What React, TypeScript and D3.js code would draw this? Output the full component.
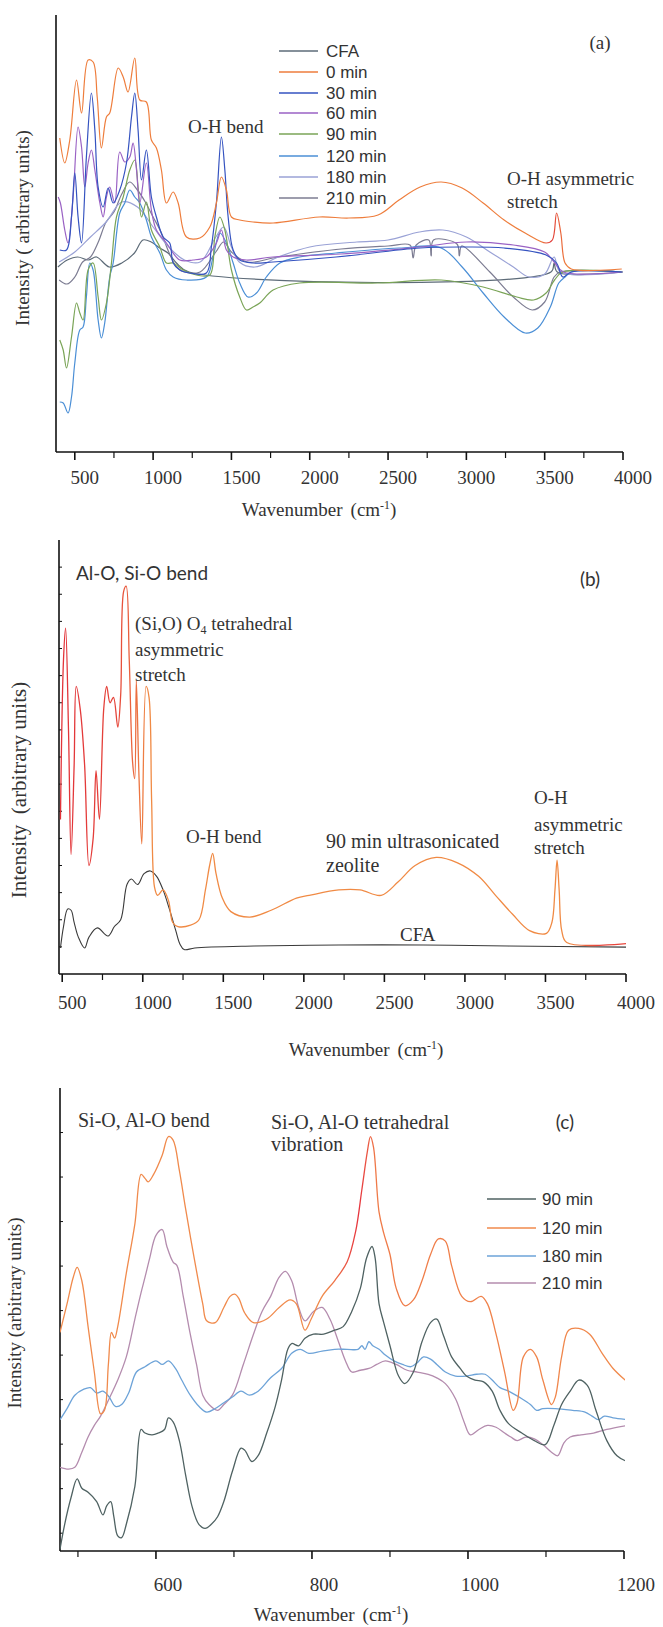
import React from "react";
import * as d3 from "d3";

type P = [number, number];

const SERIF = '"Liberation Serif", "Times New Roman", serif';
const SANS = '"Liberation Sans", Arial, sans-serif';
const CAL = 'Lato, "Open Sans", sans-serif';
const TXT = "#333333";

// ---------- Panel (a) ----------
const aLegend = ["CFA", "0 min", "30 min", "60 min", "90 min", "120 min", "180 min", "210 min"];
const aColors = ["#5d6b78", "#ee7d3c", "#3553c0", "#9a62c4", "#7aa457", "#4b8fd6", "#9aa2d6", "#7c7c92"];

const aCFA: P[] = [[392,185],[452,192],[519,195],[586,192],[639,195],[720,185],[800,189],[881,199],[935,212],[988,210],[1042,204],[1095,199],[1149,189],[1229,180],[3540,180],[3560,189],[3580,180],[4000,180]];
const a0: P[] = [[404,314],[436,289],[468,312],[511,372],[543,339],[585,392],[617,390],[643,355],[670,304],[702,335],[723,339],[777,384],[809,375],[840,360],[883,394],[915,352],[957,350],[989,312],[1021,304],[1053,282],[1085,249],[1128,260],[1160,249],[1213,215],[1298,214],[1362,225],[1404,249],[1436,275],[1468,262],[1500,235],[1553,232],[1638,230],[1766,229],[2061,235],[2249,234],[2436,237],[2570,252],[2705,265],[2839,270],[2973,264],[3107,249],[3241,232],[3375,219],[3509,209],[3549,212],[3576,239],[3603,219],[3630,189],[3670,183],[3992,183]];
const a30: P[] = [[404,202],[447,202],[479,235],[500,279],[521,235],[543,209],[574,295],[606,359],[628,322],[649,265],[681,245],[713,264],[745,249],[787,262],[830,289],[862,335],[883,359],[904,322],[926,272],[957,302],[989,255],[1021,235],[1064,215],[1106,209],[1128,189],[1170,182],[1234,179],[1340,179],[1372,205],[1404,249],[1436,315],[1458,282],[1479,235],[1511,202],[1553,192],[1638,189],[1766,190],[2168,195],[2705,204],[2973,205],[3241,204],[3509,197],[3576,189],[3616,175],[3670,180],[3992,180]];
const a60: P[] = [[394,255],[408,249],[436,222],[457,209],[489,255],[521,325],[543,305],[564,265],[585,289],[606,302],[628,282],[660,249],[681,235],[702,255],[723,265],[755,249],[787,300],[819,290],[851,295],[872,309],[894,282],[915,249],[957,289],[989,242],[1021,222],[1085,209],[1170,192],[1255,192],[1340,195],[1404,209],[1436,222],[1468,202],[1511,195],[1596,192],[1766,195],[2200,198],[2700,205],[3000,210],[3300,207],[3500,200],[3560,190],[3620,180],[3992,180]];
const a90: P[] = [[404,112],[426,102],[447,84],[479,115],[511,149],[532,139],[553,132],[585,182],[617,189],[649,155],[670,132],[702,149],[734,189],[766,235],[809,255],[851,282],[883,292],[904,265],[926,235],[957,250],[989,222],[1043,205],[1085,189],[1128,189],[1192,182],[1277,177],[1362,177],[1394,215],[1426,235],[1458,222],[1500,182],[1553,155],[1596,142],[1638,145],[1681,149],[1766,162],[1936,169],[2436,169],[2839,172],[3107,165],[3322,155],[3429,152],[3509,159],[3563,172],[3616,180],[3992,180]];
const a120: P[] = [[404,50],[426,49],[457,39],[479,55],[500,89],[532,122],[553,125],[574,155],[596,189],[617,182],[649,132],[670,114],[691,129],[723,175],[745,189],[787,239],[819,249],[851,262],[883,255],[915,249],[957,232],[989,215],[1043,199],[1085,182],[1128,175],[1213,172],[1340,175],[1383,195],[1426,219],[1468,209],[1511,189],[1553,169],[1606,155],[1660,159],[1723,175],[1809,189],[1936,195],[2168,199],[2570,204],[2839,204],[2973,185],[3107,159],[3241,135],[3375,119],[3456,124],[3536,145],[3590,169],[3630,175],[3670,180],[3992,180]];
const a180: P[] = [[400,190],[500,200],[600,215],[700,230],[800,250],[900,245],[1000,225],[1100,205],[1200,192],[1300,190],[1400,215],[1450,225],[1500,205],[1550,190],[1650,185],[1800,195],[2000,205],[2300,210],[2500,212],[2700,220],[2850,222],[3000,215],[3150,200],[3300,185],[3400,175],[3500,178],[3560,195],[3600,180],[4000,180]];
const a210: P[] = [[400,172],[450,168],[500,175],[550,190],[600,195],[650,210],[700,230],[750,240],[800,258],[850,270],[900,262],[950,250],[1000,235],[1050,220],[1100,200],[1150,185],[1200,180],[1300,180],[1400,200],[1450,210],[1500,200],[1600,190],[1800,195],[2200,203],[2500,206],[2640,207],[2660,194],[2680,207],[2760,212],[2775,196],[2790,212],[2940,208],[2955,196],[2970,206],[3150,180],[3300,155],[3420,142],[3500,150],[3560,175],[3600,180],[4000,180]];

// ---------- Panel (b) ----------
const b90: P[] = [[489,5.7],[508,11.6],[521,12.75],[539,9.0],[555,4.4],[574,7.7],[587,10.6],[613,9.7],[639,7.7],[666,4.0],[692,5.0],[710,7.5],[731,5.7],[758,9.8],[776,10.6],[797,10.0],[818,10.2],[845,9.1],[863,10.3],[881,14.1],[897,14.3],[916,11.6],[937,7.8],[950,7.2],[960,10.8],[976,7.4],[994,4.8],[1021,10.6],[1039,10.2],[1055,6.4],[1073,3.2],[1092,2.9],[1126,3.1],[1160,2.7],[1186,1.9],[1218,1.75],[1297,1.8],[1349,2.0],[1389,3.1],[1415,4.0],[1434,4.45],[1455,3.7],[1494,2.8],[1547,2.3],[1665,2.1],[1797,2.35],[1954,2.8],[2033,2.9],[2217,3.1],[2349,3.1],[2480,2.9],[2586,3.4],[2691,4.0],[2822,4.3],[2954,4.1],[3085,3.6],[3190,2.9],[3296,2.2],[3401,1.6],[3506,1.5],[3540,1.9],[3559,3.1],[3572,4.2],[3585,3.1],[3601,1.6],[3632,1.16],[4000,1.12]];
const bCFA: P[] = [[489,0.96],[508,1.75],[534,2.4],[555,2.35],[574,1.9],[600,1.36],[639,0.96],[666,1.36],[718,1.7],[784,1.4],[824,1.75],[863,2.0],[902,3.3],[929,3.5],[968,3.3],[1008,3.7],[1047,3.8],[1086,3.6],[1126,3.1],[1165,2.4],[1205,1.6],[1231,1.1],[1257,0.9],[1323,0.96],[1691,1.03],[2217,1.07],[2743,1.07],[3269,1.03],[4000,0.99]];
const bYTicks = [1,2,3,4,5,6,7,8,9,10,11,12,13,14,15];

// ---------- Panel (c) ----------
const cLegend = ["90 min", "120 min", "180 min", "210 min"];
const cColors = ["#4f6262", "#f08a4c", "#6da3d8", "#b48cae"];
const c90: P[] = [[477,-0.36],[483,0.2],[491,0.79],[499,1.22],[505,1.01],[513,0.92],[524,0.71],[532,0.41],[537,0.62],[542,0.71],[546,0.37],[551,-0.06],[556,-0.1],[562,0.2],[573,1.05],[581,2.33],[586,2.25],[595,2.21],[603,2.25],[611,2.33],[616,2.59],[622,2.5],[630,2.08],[638,1.31],[646,0.62],[655,0.2],[663,0.11],[671,0.2],[679,0.37],[687,0.71],[698,1.39],[709,1.91],[714,1.86],[723,1.61],[731,1.74],[742,2.25],[753,2.85],[761,3.44],[769,4.13],[774,4.26],[783,4.21],[791,4.38],[802,4.47],[815,4.47],[829,4.56],[840,4.64],[851,4.98],[862,5.5],[870,6.18],[877,6.44],[881,6.18],[886,5.15],[892,4.73],[900,4.21],[911,3.53],[919,3.36],[930,3.62],[941,4.3],[952,4.73],[960,4.81],[968,4.47],[979,3.96],[990,3.7],[998,3.53],[1009,3.44],[1020,3.4],[1031,3.19],[1041,2.76],[1052,2.46],[1069,2.25],[1085,2.08],[1099,1.99],[1110,2.42],[1120,2.89],[1131,3.19],[1142,3.44],[1153,3.32],[1164,2.76],[1178,2.08],[1191,1.74],[1204,1.61]];
const c120: P[] = [[477,4.51],[486,5.15],[494,5.75],[499,5.97],[505,5.67],[513,4.64],[521,3.62],[529,2.68],[534,2.76],[539,3.79],[543,4.51],[547,4.38],[551,4.64],[562,5.84],[573,6.95],[581,8.06],[586,7.97],[590,7.89],[597,8.06],[608,8.49],[616,8.91],[622,8.83],[630,8.15],[638,7.29],[649,6.18],[660,5.15],[665,4.77],[676,4.73],[687,5.07],[695,5.32],[701,5.37],[706,5.28],[714,4.94],[725,4.73],[742,4.81],[758,5.07],[772,5.24],[780,5.15],[791,4.56],[799,4.81],[813,5.32],[829,5.67],[845,6.09],[856,6.78],[864,7.72],[871,8.57],[875,8.91],[879,8.66],[886,7.21],[892,6.74],[900,6.26],[908,5.5],[919,5.11],[930,5.24],[941,5.67],[952,6.26],[962,6.61],[971,6.56],[979,6.01],[992,5.32],[1003,5.2],[1017,5.32],[1025,5.15],[1036,4.47],[1047,3.62],[1058,2.76],[1063,2.93],[1071,3.96],[1080,4.13],[1088,3.96],[1096,3.44],[1107,2.89],[1112,3.06],[1120,3.96],[1129,4.56],[1142,4.6],[1156,4.47],[1172,4.04],[1186,3.7],[1204,3.4]];
const c180: P[] = [[477,2.55],[486,2.8],[496,3.1],[507,3.23],[516,3.27],[524,3.15],[532,3.19],[540,3.06],[548,2.85],[556,2.89],[565,3.15],[575,3.62],[586,3.74],[600,3.87],[608,3.79],[616,3.87],[625,3.7],[633,3.44],[644,3.1],[655,2.85],[665,2.72],[676,2.8],[687,2.93],[698,3.06],[709,3.19],[720,3.1],[731,3.19],[747,3.49],[761,3.7],[774,4.04],[785,4.13],[796,4.04],[813,4.09],[829,4.13],[845,4.13],[859,4.13],[864,4.21],[868,4.13],[873,4.3],[878,4.21],[886,4.13],[894,4.0],[905,3.87],[916,3.79],[927,3.74],[935,3.83],[943,3.96],[952,3.91],[960,3.79],[971,3.62],[984,3.53],[998,3.53],[1011,3.57],[1022,3.57],[1031,3.44],[1041,3.27],[1052,3.19],[1069,3.02],[1080,2.89],[1088,2.76],[1096,2.8],[1112,2.8],[1134,2.76],[1150,2.72],[1159,2.63],[1167,2.55],[1175,2.63],[1186,2.59],[1204,2.55]];
const c210: P[] = [[477,1.48],[488,1.44],[496,1.48],[505,1.82],[513,2.16],[521,2.42],[529,2.63],[540,3.02],[551,3.44],[562,3.96],[573,4.81],[581,5.41],[586,5.75],[592,6.18],[600,6.69],[608,6.82],[614,6.44],[622,6.09],[627,6.01],[635,5.32],[644,4.47],[652,3.79],[660,3.1],[668,2.89],[679,2.76],[687,2.89],[698,3.1],[712,3.79],[725,4.47],[736,4.98],[747,5.32],[758,5.75],[766,5.88],[774,5.67],[783,5.07],[791,4.77],[802,4.98],[813,5.07],[823,4.81],[834,4.3],[843,3.87],[851,3.62],[862,3.66],[873,3.7],[883,3.79],[894,3.87],[908,3.79],[922,3.66],[935,3.62],[949,3.57],[960,3.49],[971,3.36],[984,3.02],[995,2.5],[1003,2.21],[1014,2.33],[1025,2.42],[1036,2.38],[1047,2.25],[1055,2.16],[1063,2.08],[1074,2.16],[1085,2.12],[1096,1.99],[1107,1.82],[1115,1.74],[1123,2.03],[1131,2.16],[1145,2.21],[1161,2.25],[1178,2.33],[1204,2.42]];
const cYTicks = [0,1,2,3,4,5,6,7,8,9];

// ---------- shared ticks ----------
const abMajor = [500,1000,1500,2000,2500,3000,3500,4000];
const abMinor = [750,1250,1750,2250,2750,3250,3750];
const cMajor = [600,800,1000,1200];
const cMinor = [500,700,900,1100];

type Scale = d3.ScaleLinear<number, number>;

function Spectrum({ data, xs, ys, stroke, w = 1.2, clip }: { data: P[]; xs: Scale; ys: Scale; stroke: string; w?: number; clip: string }) {
  const line = d3.line<P>().x((d) => xs(d[0])).y((d) => ys(d[1])).curve(d3.curveCatmullRom.alpha(0.5));
  return <path d={line(data) || ""} fill="none" stroke={stroke} strokeWidth={w} strokeLinejoin="round" clipPath={`url(#${clip})`} />;
}

function XAxis({ xs, y0, major, minor, labelY, dx }: { xs: Scale; y0: number; major: number[]; minor: number[]; labelY: number; dx: number }) {
  const [r0, r1] = xs.range();
  return (
    <g>
      <line x1={r0} x2={r1} y1={y0} y2={y0} stroke="#111" strokeWidth={1.6} />
      {major.map((v) => (
        <line key={"M" + v} x1={xs(v)} x2={xs(v)} y1={y0} y2={y0 + 8} stroke="#111" strokeWidth={1.6} />
      ))}
      {minor.map((v) => (
        <line key={"m" + v} x1={xs(v)} x2={xs(v)} y1={y0} y2={y0 + 6} stroke="#111" strokeWidth={1.2} />
      ))}
      {major.map((v) => (
        <text key={"t" + v} x={xs(v) + dx} y={labelY + 6} textAnchor="middle" fontFamily={SERIF} fontSize={19} fill={TXT}>
          {v}
        </text>
      ))}
    </g>
  );
}

function XTitle({ cx, cy, size = 19 }: { cx: number; cy: number; size?: number }) {
  return (
    <text x={cx} y={cy + 6} textAnchor="middle" fontFamily={SERIF} fontSize={size} fill={TXT}>
      Wavenumber<tspan dx={8}>(cm</tspan>
      <tspan fontSize={size * 0.62} dy={-7}>-1</tspan>
      <tspan dy={7}>)</tspan>
    </text>
  );
}

function YTitle({ cx, cy, label, size }: { cx: number; cy: number; label: string; size: number }) {
  return (
    <text transform={`translate(${cx},${cy}) rotate(-90)`} textAnchor="middle" dominantBaseline="middle" fontFamily={SERIF} fontSize={size} fill={TXT} style={{ whiteSpace: "pre" }}>
      {label}
    </text>
  );
}

export default function App() {
  const xA = d3.scaleLinear().domain([380, 4000]).range([56, 623]);
  const yA = d3.scaleLinear().domain([0, 437]).range([452, 15]);
  const xB = d3.scaleLinear().domain([480, 4000]).range([59, 626]);
  const yB = d3.scaleLinear().domain([0, 16]).range([974, 540]);
  const xC = d3.scaleLinear().domain([477, 1200]).range([60, 624]);
  const yC = d3.scaleLinear().domain([-0.4, 10]).range([1551, 1088]);

  const aSeries = [aCFA, a0, a30, a60, a90, a120, a180, a210];
  const aOrder = [0, 7, 6, 5, 4, 3, 2, 1];
  const cSeries = [c90, c120, c180, c210];
  const cOrder = [3, 2, 0, 1];
  const aRows = [51, 72, 93, 113, 134, 156, 177, 198];
  const cRows = [1199, 1228, 1256, 1283];

  return (
    <svg width={663} height={1627} style={{ position: "absolute", left: 0, top: 0, background: "#fff" }}>
      <defs>
        <clipPath id="clipA"><rect x={56} y={10} width={570} height={442} /></clipPath>
        <clipPath id="clipB"><rect x={59} y={535} width={570} height={439} /></clipPath>
        <clipPath id="clipC"><rect x={60} y={1080} width={565} height={471} /></clipPath>
        <linearGradient id="gradA" gradientUnits="userSpaceOnUse" x1={56} x2={623} y1={0} y2={0}>
          <stop offset="0" stopColor="#ee7d3c" />
          <stop offset="0.855" stopColor="#ee7d3c" />
          <stop offset="0.872" stopColor="#e03a3a" />
          <stop offset="0.9" stopColor="#ee7d3c" />
          <stop offset="1" stopColor="#ee7d3c" />
        </linearGradient>
        <linearGradient id="gradB" gradientUnits="userSpaceOnUse" x1={59} x2={626} y1={0} y2={0}>
          <stop offset="0" stopColor="#e2333a" />
          <stop offset="0.1" stopColor="#e5443a" />
          <stop offset="0.16" stopColor="#f08a44" />
          <stop offset="0.9" stopColor="#f08a44" />
          <stop offset="0.95" stopColor="#e8463c" />
          <stop offset="1" stopColor="#e8463c" />
        </linearGradient>
        <linearGradient id="gradC" gradientUnits="userSpaceOnUse" x1={60} x2={624} y1={0} y2={0}>
          <stop offset="0" stopColor="#f08a4c" />
          <stop offset="0.47" stopColor="#f08a4c" />
          <stop offset="0.53" stopColor="#e6343e" />
          <stop offset="0.56" stopColor="#ef7a48" />
          <stop offset="1" stopColor="#f08a4c" />
        </linearGradient>
      </defs>

      {/* ================= Panel (a) ================= */}
      <line x1={56} x2={56} y1={15} y2={452} stroke="#111" strokeWidth={1.6} />
      {aOrder.map((i) => (
        <Spectrum key={"a" + i} data={aSeries[i]} xs={xA} ys={yA} stroke={i === 1 ? "url(#gradA)" : aColors[i]} clip="clipA" />
      ))}
      <XAxis xs={xA} y0={452} major={abMajor} minor={abMinor} labelY={478} dx={10} />
      <XTitle cx={319} cy={510} />
      <YTitle cx={25} cy={228} label="Intensity ( arbitrary units)" size={19} />
      {aLegend.map((s, i) => (
        <g key={"al" + i}>
          <line x1={279} x2={318} y1={aRows[i]} y2={aRows[i]} stroke={aColors[i]} strokeWidth={1.4} />
          <text x={326} y={aRows[i] + 6} fontFamily={SANS} fontSize={17} fill={TXT}>{s}</text>
        </g>
      ))}
      <text x={600} y={43 + 6} textAnchor="middle" fontFamily={SERIF} fontSize={19} fill={TXT}>(a)</text>
      <text x={188} y={127 + 6} fontFamily={SERIF} fontSize={19} fill={TXT}>O-H bend</text>
      <text x={507} y={179 + 6} fontFamily={SERIF} fontSize={19} fill={TXT}>O-H asymmetric</text>
      <text x={507} y={202 + 6} fontFamily={SERIF} fontSize={19} fill={TXT}>stretch</text>

      {/* ================= Panel (b) ================= */}
      <line x1={59} x2={59} y1={540} y2={974} stroke="#111" strokeWidth={1.6} />
      {bYTicks.map((t) => (
        <line key={"by" + t} x1={59} x2={62} y1={yB(t)} y2={yB(t)} stroke="#111" strokeWidth={1} />
      ))}
      <Spectrum data={bCFA} xs={xB} ys={yB} stroke="#3a3a3a" w={1.1} clip="clipB" />
      <Spectrum data={b90} xs={xB} ys={yB} stroke="url(#gradB)" w={1.3} clip="clipB" />
      <XAxis xs={xB} y0={974} major={abMajor} minor={abMinor} labelY={1003} dx={10} />
      <XTitle cx={366} cy={1050} />
      <YTitle cx={21} cy={790} label="Intensity  (arbitrary units)" size={21} />
      <text x={76} y={574 + 6} fontFamily={CAL} fontSize={19} fill={TXT}>Al-O, Si-O bend</text>
      <text x={590} y={580 + 6} textAnchor="middle" fontFamily={CAL} fontSize={19} fill={TXT}>(b)</text>
      <text x={135} y={624 + 6} fontFamily={SERIF} fontSize={19} fill={TXT}>
        (Si,O) O<tspan fontSize={12} dy={4}>4</tspan><tspan dy={-4}> tetrahedral</tspan>
      </text>
      <text x={135} y={650 + 6} fontFamily={SERIF} fontSize={19} fill={TXT}>asymmetric</text>
      <text x={135} y={675 + 6} fontFamily={SERIF} fontSize={19} fill={TXT}>stretch</text>
      <text x={186} y={837 + 6} fontFamily={SERIF} fontSize={19} fill={TXT}>O-H bend</text>
      <text x={326} y={842 + 6} fontFamily={SERIF} fontSize={20} fill={TXT}>90 min ultrasonicated</text>
      <text x={326} y={866 + 6} fontFamily={SERIF} fontSize={20} fill={TXT}>zeolite</text>
      <text x={534} y={798 + 6} fontFamily={SERIF} fontSize={19} fill={TXT}>O-H</text>
      <text x={534} y={825 + 6} fontFamily={SERIF} fontSize={19} fill={TXT}>asymmetric</text>
      <text x={534} y={848 + 6} fontFamily={SERIF} fontSize={19} fill={TXT}>stretch</text>
      <text x={400} y={935 + 6} fontFamily={SERIF} fontSize={19} fill={TXT}>CFA</text>

      {/* ================= Panel (c) ================= */}
      <line x1={60} x2={60} y1={1088} y2={1551} stroke="#111" strokeWidth={1.6} />
      {cYTicks.map((t) => (
        <line key={"cy" + t} x1={60} x2={63} y1={yC(t)} y2={yC(t)} stroke="#111" strokeWidth={1} />
      ))}
      {cOrder.map((i) => (
        <Spectrum key={"c" + i} data={cSeries[i]} xs={xC} ys={yC} stroke={i === 1 ? "url(#gradC)" : cColors[i]} w={1.3} clip="clipC" />
      ))}
      <XAxis xs={xC} y0={1551} major={cMajor} minor={cMinor} labelY={1585} dx={12} />
      <XTitle cx={331} cy={1615} />
      <YTitle cx={17} cy={1313} label="Intensity (arbitrary units)" size={19} />
      {cLegend.map((s, i) => (
        <g key={"cl" + i}>
          <line x1={487} x2={536} y1={cRows[i]} y2={cRows[i]} stroke={cColors[i]} strokeWidth={1.4} />
          <text x={542} y={cRows[i] + 6} fontFamily={SANS} fontSize={17} fill={TXT}>{s}</text>
        </g>
      ))}
      <text x={78} y={1121 + 6} fontFamily={SERIF} fontSize={20} fill={TXT}>Si-O, Al-O bend</text>
      <text x={271} y={1123 + 6} fontFamily={SERIF} fontSize={20} fill={TXT}>Si-O, Al-O tetrahedral</text>
      <text x={271} y={1145 + 6} fontFamily={SERIF} fontSize={20} fill={TXT}>vibration</text>
      <text x={565} y={1123 + 6} textAnchor="middle" fontFamily={CAL} fontSize={19} fill={TXT}>(c)</text>
    </svg>
  );
}
